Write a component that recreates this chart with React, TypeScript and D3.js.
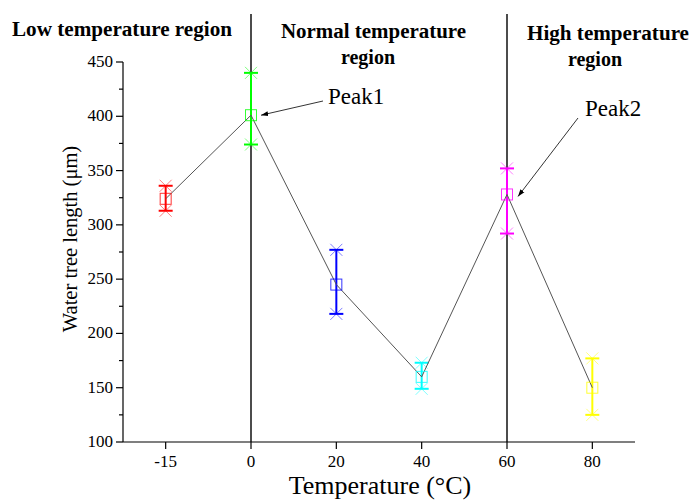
import React from 'react';
import * as d3 from 'd3';

// temperature groups and measured water tree length (um)
const temps = ['-15', '0', '20', '40', '60', '80'];
const means = [324, 401, 245, 160, 328, 150];
const upper = [336, 440, 277, 173, 352, 177];
const lower = [313, 374, 218, 149, 292, 125];
const colors = ['#ff0000', '#00ff00', '#0000ff', '#00ffff', '#ff00ff', '#ffff00'];
const yTicks = [100, 150, 200, 250, 300, 350, 400, 450];
const yMinor = [125, 175, 225, 275, 325, 375, 425];
const boundaries = ['0', '60'];

const W = 691;
const H = 501;
const left = 123;
const right = 635;
const top = 62;
const bottom = 442;
const font = "'Liberation Serif', 'Times New Roman', Times, serif";

const x = d3.scalePoint<string>().domain(temps).range([left, right]).padding(0.5);
const y = d3.scaleLinear().domain([100, 450]).range([bottom, top]);

const Star = ({ cx, cy, color }: { cx: number; cy: number; color: string }) => {
  const s = 6;
  return (
    <g stroke={color} strokeWidth={1} opacity={0.5}>
      <line x1={cx - s} y1={cy - s} x2={cx + s} y2={cy + s} />
      <line x1={cx - s} y1={cy + s} x2={cx + s} y2={cy - s} />
    </g>
  );
};

export default function App() {
  const line = d3
    .line<number>()
    .x((_, i) => x(temps[i]) as number)
    .y((d) => y(d));

  return (
    <svg
      width={W}
      height={H}
      style={{ position: 'absolute', left: 0, top: 0, background: '#fff', fontFamily: font }}
    >
      <defs>
        <marker id="arr" viewBox="0 0 10 10" refX="10" refY="5" markerWidth="9" markerHeight="9" orient="auto">
          <path d="M0,1.5 L10,5 L0,8.5 Z" fill="#000" />
        </marker>
      </defs>

      {/* region separators */}
      {boundaries.map((b) => (
        <line key={b} x1={x(b)} x2={x(b)} y1={14} y2={bottom} stroke="#111" strokeWidth={1.5} />
      ))}

      {/* region titles */}
      <g fontWeight="bold" fontSize={20} fill="#000">
        <text x={12} y={36} textLength={220} lengthAdjust="spacingAndGlyphs">Low temperature region</text>
        <text x={281} y={38} textLength={185} lengthAdjust="spacingAndGlyphs">Normal temperature</text>
        <text x={368} y={64} textAnchor="middle">region</text>
        <text x={527} y={40} textLength={162} lengthAdjust="spacingAndGlyphs">High temperature</text>
        <text x={595} y={66} textAnchor="middle">region</text>
      </g>

      {/* axes */}
      <g stroke="#000" strokeWidth={1.2}>
        <line x1={left} x2={left} y1={top} y2={bottom} />
        <line x1={left} x2={right} y1={bottom} y2={bottom} />
        {yTicks.map((t) => (
          <line key={t} x1={left - 7} x2={left} y1={y(t)} y2={y(t)} />
        ))}
        {yMinor.map((t) => (
          <line key={t} x1={left - 4} x2={left} y1={y(t)} y2={y(t)} />
        ))}
        {temps.map((t) => (
          <line key={t} x1={x(t)} x2={x(t)} y1={bottom} y2={bottom + 7} />
        ))}
      </g>
      <g fontSize={17} fill="#000">
        {yTicks.map((t) => (
          <text key={t} x={left - 10} y={y(t) + 5} textAnchor="end">{t}</text>
        ))}
        {temps.map((t) => (
          <text key={t} x={x(t)} y={bottom + 25} textAnchor="middle">{t}</text>
        ))}
      </g>
      <text
        transform={`translate(77,239) rotate(-90)`}
        textAnchor="middle"
        fontSize={20.5}
      >
        Water tree length (μm)
      </text>
      <text x={380} y={494} textAnchor="middle" fontSize={26}>
        Temperature (°C)
      </text>

      {/* error bars */}
      {temps.map((t, i) => {
        const cx = x(t) as number;
        const c = colors[i];
        return (
          <g key={t}>
            <line x1={cx} x2={cx} y1={y(upper[i])} y2={y(lower[i])} stroke={c} strokeWidth={2} />
            <line x1={cx - 7} x2={cx + 7} y1={y(upper[i])} y2={y(upper[i])} stroke={c} strokeWidth={2} />
            <line x1={cx - 7} x2={cx + 7} y1={y(lower[i])} y2={y(lower[i])} stroke={c} strokeWidth={2} />
            <Star cx={cx} cy={y(upper[i])} color={c} />
            <Star cx={cx} cy={y(lower[i])} color={c} />
          </g>
        );
      })}

      {/* connecting line */}
      <path d={line(means) ?? ''} fill="none" stroke="#555" strokeWidth={1} />

      {/* mean markers */}
      {temps.map((t, i) => (
        <rect
          key={t}
          x={(x(t) as number) - 5.5}
          y={y(means[i]) - 5.5}
          width={11}
          height={11}
          fill="none"
          stroke={colors[i]}
          strokeWidth={1}
          opacity={0.8}
        />
      ))}

      {/* peak annotations */}
      <text x={328} y={104} fontSize={23}>Peak1</text>
      <line
        x1={323}
        y1={101}
        x2={x('0')! + 10}
        y2={y(means[1])}
        stroke="#000"
        strokeWidth={0.8}
        markerEnd="url(#arr)"
      />
      <text x={585} y={116} fontSize={23}>Peak2</text>
      <line
        x1={578}
        y1={118}
        x2={x('60')! + 11}
        y2={y(means[4]) + 2}
        stroke="#000"
        strokeWidth={0.8}
        markerEnd="url(#arr)"
      />
    </svg>
  );
}
